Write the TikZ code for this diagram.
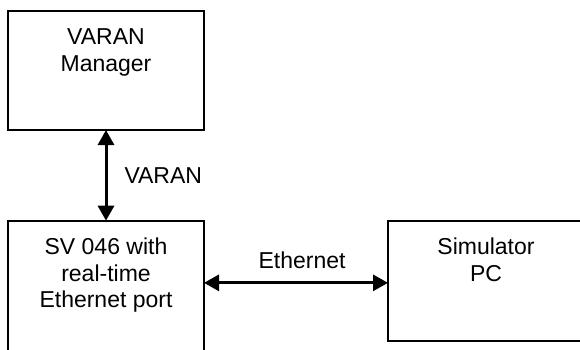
\documentclass[tikz,border=0pt]{standalone}
\usepackage{fontspec}
\setmainfont{Liberation Sans}
\usetikzlibrary{arrows.meta}

\begin{document}
\begin{tikzpicture}[x=1pt, y=-1pt,
    box/.style={draw, line width=2pt, outer sep=0pt, inner sep=0pt, anchor=north west, minimum width=196pt},
    txt/.style={align=center, inner sep=0pt, font=\fontsize{23}{26.5}\selectfont},
    link/.style={line width=3pt, {Triangle[length=15pt,width=16pt]}-{Triangle[length=15pt,width=16pt]}}]
      \useasboundingbox (0,0) rectangle (580,350);
      \clip (0,0) rectangle (580,350);
      % blocks (the lower ones run off the page)
      \node[box, minimum height=119.3pt] (mgr) at (8,10.7) {};
      \node[box, minimum height=140pt] (sv) at (8,220.7) {};
      \node[box, minimum height=120.3pt] (sim) at (388,220.7) {};
      % base = baseline of the last line
      \node[txt, anchor=base] (mgrtxt) at ([yshift=-60.5pt]mgr.north) {VARAN\\Manager};
      \node[txt, anchor=base] (svtxt) at ([yshift=-87pt]sv.north) {SV 046 with\\real-time\\Ethernet port};
      \node[txt, anchor=base] (simtxt) at ([yshift=-60.5pt]sim.north) {Simulator\\PC};
      % links
      \coordinate (ethR) at ([yshift=-2pt]sim.west);
      \draw[link] (mgr.south) -- (sv.north) node[txt, midway, anchor=west, xshift=17pt] (varantxt) {VARAN};
      \draw[link] (ethR -| sv.east) -- (ethR) node[txt, midway, anchor=base, yshift=14.7pt, xshift=6pt] (ethtxt) {Ethernet};
\end{tikzpicture}
\end{document}
